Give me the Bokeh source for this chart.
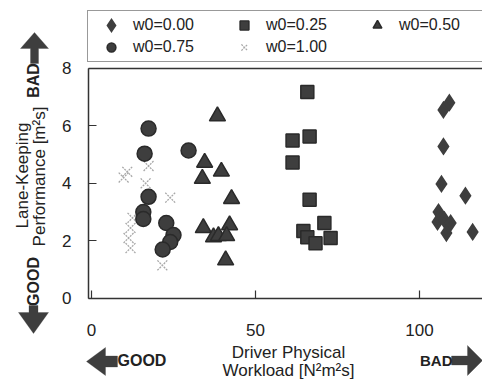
import math
from bokeh.plotting import figure
from bokeh.models import (Range1d, LinearAxis, FixedTicker, Label, PolyAnnotation,
                          Legend, LegendItem)
from bokeh.embed import file_html
from bokeh.resources import INLINE

# ---- data ----
w000_x = [107.3, 109.1, 107.3, 106.7, 114.0, 105.8, 105.5, 107.6, 109.5, 108.2, 116.2]
w000_y = [6.55, 6.80, 5.28, 3.98, 3.57, 3.00, 2.66, 2.73, 2.62, 2.27, 2.31]
w025_x = [65.8, 61.3, 66.5, 61.3, 66.5, 71.0, 64.6, 65.8, 68.3, 72.9]
w025_y = [7.17, 5.49, 5.63, 4.72, 3.43, 2.62, 2.34, 2.13, 1.92, 2.10]
w050_x = [38.4, 34.5, 39.6, 33.8, 42.7, 34.1, 42.1, 37.2, 38.7, 41.2, 40.9]
w050_y = [6.33, 4.72, 4.41, 4.16, 3.46, 2.45, 2.55, 2.13, 2.17, 2.17, 1.33]
w075_x = [17.4, 16.2, 29.6, 17.4, 15.8, 15.8, 22.8, 25.0, 24.0, 21.7]
w075_y = [5.90, 5.03, 5.14, 3.53, 3.00, 2.76, 2.62, 2.20, 1.96, 1.70]
w100_x = [9.8, 10.9, 17.4, 16.5, 24.0, 11.9, 11.3, 11.9, 21.6, 12.5]
w100_y = [4.20, 4.40, 4.60, 4.00, 3.50, 2.45, 2.10, 1.75, 1.15, 2.80]

series_labels = ["w0=0.00", "w0=0.25", "w0=0.50", "w0=0.75", "w0=1.00"]
x_ticks = [0, 50, 100]
y_ticks = [0, 2, 4, 6, 8]
x_min, y_min, y_max = -0.9, 0.0, 8.0   # plot-area edges

FONT = "Liberation Sans"
DARK = "#3e3e3e"
EDGE = "#2a2a2a"
TXT = "#222222"
W, H = 482, 380

# The frame fills the whole canvas; the axes sit at fixed data locations so
# that texts and arrows around the plot area are not clipped away.
p = figure(width=W, height=H, output_backend="svg", toolbar_location=None,
           x_range=Range1d(-27.74, 119.21), y_range=Range1d(-2.85, 10.35),
           min_border=0)
p.outline_line_color = None
p.grid.visible = False
p.background_fill_color = "white"
p.border_fill_color = "white"

xa, ya = p.xaxis[0], p.yaxis[0]
xa.fixed_location = y_min
xa.bounds = (x_min, 200)
ya.fixed_location = x_min
ya.bounds = (y_min, y_max)
for ax in (xa, ya):
    ax.axis_line_color = "#333333"
    ax.axis_line_width = 1.5
    ax.major_tick_in = 8
    ax.major_tick_out = 0
    ax.major_tick_line_color = "#333333"
    ax.major_tick_line_width = 1.2
    ax.minor_tick_line_color = None
    ax.major_label_text_font = FONT
    ax.major_label_text_font_size = "17px"
    ax.major_label_text_color = TXT
xa.ticker = FixedTicker(ticks=x_ticks)
ya.ticker = FixedTicker(ticks=y_ticks)
xa.major_label_standoff = 26
ya.major_label_standoff = 17

top = LinearAxis(fixed_location=y_max, bounds=(x_min, 200),
                 axis_line_color="#333333", axis_line_width=1.5,
                 major_tick_line_color=None, minor_tick_line_color=None,
                 major_label_text_font_size="0px", ticker=FixedTicker(ticks=[]))
p.add_layout(top, "above")

r4 = p.scatter(w100_x, w100_y, marker="x", size=14, line_color="#a8a8a8",
               line_width=1.3, line_dash="2 1")
r3 = p.scatter(w075_x, w075_y, marker="circle", size=15, fill_color=DARK,
               line_color=EDGE, line_width=1.5)
r2 = p.scatter(w050_x, w050_y, marker="triangle", size=16, fill_color=DARK,
               line_color=EDGE, line_width=1.5)
r1 = p.scatter(w025_x, w025_y, marker="square", size=13, fill_color=DARK,
               line_color=EDGE, line_width=1.5)
r0 = p.scatter(w000_x, w000_y, marker="diamond", size=12, fill_color=DARK,
               line_color=DARK, line_width=3.5, line_join="miter")

legend = Legend(items=[LegendItem(label=series_labels[0], renderers=[r0]),
                       LegendItem(label=series_labels[1], renderers=[r1]),
                       LegendItem(label=series_labels[2], renderers=[r2]),
                       LegendItem(label=series_labels[3], renderers=[r3]),
                       LegendItem(label=series_labels[4], renderers=[r4])],
                location=(87, 318), orientation="horizontal", ncols=3,
                margin=0, padding=3, spacing=0,
                glyph_width=40, glyph_height=22, label_height=22,
                label_width=91, label_standoff=2,
                label_text_font=FONT, label_text_font_size="16px",
                label_text_color=TXT,
                border_line_color="#333333", border_line_width=1.5,
                background_fill_color="white", background_fill_alpha=1.0)
p.add_layout(legend, "center")


def block_arrow(x0, y0, x1, y1, shaft_w, head_w, head_len):
    dx, dy = x1 - x0, y1 - y0
    L = math.hypot(dx, dy)
    ux, uy = dx / L, dy / L
    nx, ny = -uy, ux
    bx, by = x1 - ux * head_len, y1 - uy * head_len
    s, h = shaft_w / 2, head_w / 2
    pts = [(x0 + nx * s, y0 + ny * s), (bx + nx * s, by + ny * s),
           (bx + nx * h, by + ny * h), (x1, y1),
           (bx - nx * h, by - ny * h), (bx - nx * s, by - ny * s),
           (x0 - nx * s, y0 - ny * s)]
    p.add_layout(PolyAnnotation(xs=[q[0] for q in pts], ys=[q[1] for q in pts],
                                xs_units="screen", ys_units="screen",
                                fill_color=DARK, fill_alpha=1.0,
                                line_color=DARK, line_width=1))


def label(text, x, y, size, angle=0.0, bold=False, align="center"):
    p.add_layout(Label(text=text, x=x, y=y, x_units="screen", y_units="screen",
                       angle=angle, text_align=align, text_baseline="middle",
                       text_font=FONT, text_font_size=size,
                       text_font_style="bold" if bold else "normal",
                       text_color=TXT))


block_arrow(34, 317, 34, 348, 8, 28, 16)
block_arrow(33, 75, 33, 47, 9, 30, 21)
block_arrow(117, 19, 86, 19, 11, 28, 19)
block_arrow(451, 20, 482, 20, 9, 30, 15)

label("Lane-Keeping", 22, 205, "17px", angle=math.pi / 2)
label("Performance [m²s]", 39, 204, "17px", angle=math.pi / 2)
label("BAD", 33, 300, "16px", angle=math.pi / 2, bold=True)
label("GOOD", 33, 99, "16px", angle=math.pi / 2, bold=True)
label("GOOD", 117, 20, "16px", bold=True, align="left")
label("BAD", 452, 20, "15px", bold=True, align="right")
label("Driver Physical", 288, 28, "17px")
label("Workload [N²m²s]", 288, 10, "17px")

open("out.html", "w").write(file_html(p, INLINE))
